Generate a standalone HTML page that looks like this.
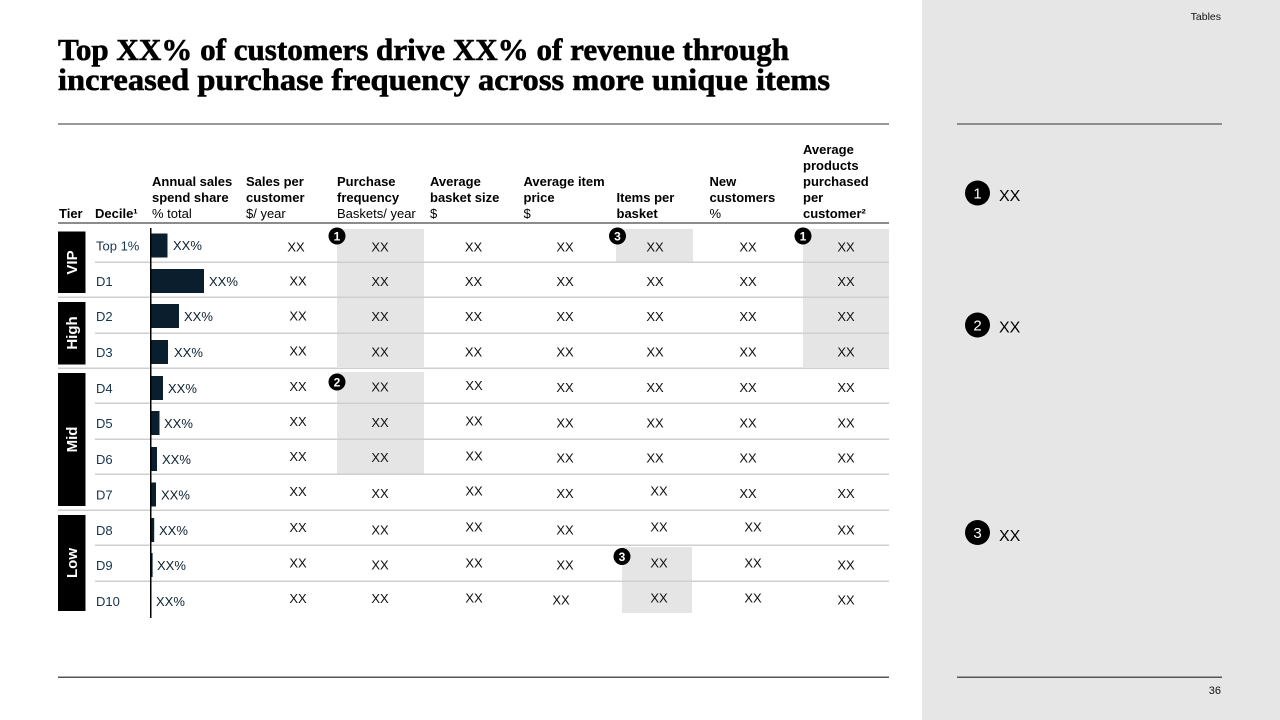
<!DOCTYPE html>
<html>
<head>
<meta charset="utf-8">
<style>
  html,body{margin:0;padding:0;background:#fff;}
  body{width:1280px;height:720px;overflow:hidden;position:relative;}
  svg{position:absolute;left:0;top:0;}
</style>
</head>
<body>
<svg width="1280" height="720" viewBox="0 0 1280 720" xmlns="http://www.w3.org/2000/svg" font-family="'Liberation Sans', Arial, sans-serif">
  <!-- right grey panel -->
  <rect x="922" y="0" width="358" height="720" fill="#e6e6e6"/>
  <text x="1221" y="20" font-size="10.5" text-anchor="end" fill="#111">Tables</text>
  <rect x="957" y="123" width="265" height="2" fill="#8c8c8c"/>
  <rect x="957" y="676.5" width="265" height="1.5" fill="#555"/>
  <text x="1221" y="694" font-size="11" text-anchor="end" fill="#111">36</text>

  <!-- legend -->
  <circle cx="977.5" cy="193" r="12.5" fill="#000"/>
  <text x="977.5" y="198.5" font-size="15" fill="#fff" text-anchor="middle">1</text>
  <text x="999" y="201" font-size="16" fill="#000">XX</text>
  <circle cx="977.5" cy="325" r="12.5" fill="#000"/>
  <text x="977.5" y="330.5" font-size="15" fill="#fff" text-anchor="middle">2</text>
  <text x="999" y="332.5" font-size="16" fill="#000">XX</text>
  <circle cx="977.5" cy="532.5" r="12.5" fill="#000"/>
  <text x="977.5" y="538" font-size="15" fill="#fff" text-anchor="middle">3</text>
  <text x="999" y="541" font-size="16" fill="#000">XX</text>

  <!-- title -->
  <g font-family="'Liberation Serif', Georgia, serif" font-weight="bold" font-size="31" fill="#000" stroke="#000" stroke-width="0.6">
    <text x="58" y="60" textLength="731" lengthAdjust="spacingAndGlyphs">Top XX% of customers drive XX% of revenue through</text>
    <text x="58" y="90" textLength="772" lengthAdjust="spacingAndGlyphs">increased purchase frequency across more unique items</text>
  </g>
  <rect x="58" y="123" width="831" height="2" fill="#999"/>
  <rect x="58" y="676.5" width="831" height="1.5" fill="#555"/>

  <!-- header -->
  <g font-size="13" fill="#000">
    <g font-weight="bold">
      <text x="59" y="218">Tier</text>
      <text x="95" y="218">Decile¹</text>
      <text x="152" y="186">Annual sales</text>
      <text x="152" y="202">spend share</text>
      <text x="246" y="186">Sales per</text>
      <text x="246" y="202">customer</text>
      <text x="337" y="186">Purchase</text>
      <text x="337" y="202">frequency</text>
      <text x="430" y="186">Average</text>
      <text x="430" y="202">basket size</text>
      <text x="523.5" y="186">Average item</text>
      <text x="523.5" y="202">price</text>
      <text x="616.5" y="202">Items per</text>
      <text x="616.5" y="218">basket</text>
      <text x="709.5" y="186">New</text>
      <text x="709.5" y="202">customers</text>
      <text x="803" y="154">Average</text>
      <text x="803" y="170">products</text>
      <text x="803" y="186">purchased</text>
      <text x="803" y="202">per</text>
      <text x="803" y="218">customer²</text>
    </g>
    <text x="152" y="218">% total</text>
    <text x="246" y="218">$/ year</text>
    <text x="337" y="218">Baskets/ year</text>
    <text x="430" y="218">$</text>
    <text x="523.5" y="218">$</text>
    <text x="709.5" y="218">%</text>
  </g>
  <rect x="58" y="222" width="831" height="2" fill="#8c8c8c"/>

  <!-- shaded cells -->
  <g fill="#e5e5e5">
    <rect x="337" y="229" width="87" height="138"/>
    <rect x="337" y="372" width="87" height="102"/>
    <rect x="616" y="229" width="77" height="33"/>
    <rect x="622" y="547" width="70" height="66"/>
    <rect x="803" y="229" width="86" height="138"/>
  </g>

  <!-- row separators -->
  <g fill="#cfcfcf">
    <rect x="95" y="261.5" width="794" height="1.5"/>
    <rect x="58" y="296.5" width="831" height="1.5"/>
    <rect x="95" y="332.5" width="794" height="1.5"/>
    <rect x="58" y="367.5" width="831" height="1.5"/>
    <rect x="95" y="402.5" width="794" height="1.5"/>
    <rect x="95" y="438.5" width="794" height="1.5"/>
    <rect x="95" y="473.5" width="794" height="1.5"/>
    <rect x="58" y="509.5" width="831" height="1.5"/>
    <rect x="95" y="544.5" width="794" height="1.5"/>
    <rect x="95" y="580.5" width="794" height="1.5"/>
  </g>

  <!-- tier boxes -->
  <g fill="#000">
    <rect x="58" y="231.5" width="27.5" height="61.5"/>
    <rect x="58" y="302" width="27.5" height="62.5"/>
    <rect x="58" y="373" width="27.5" height="133"/>
    <rect x="58" y="515" width="27.5" height="96"/>
  </g>
  <g font-size="15" font-weight="bold" fill="#fff" text-anchor="middle">
    <text transform="translate(77,262.5) rotate(-90)">VIP</text>
    <text transform="translate(77,333) rotate(-90)">High</text>
    <text transform="translate(77,439.5) rotate(-90)">Mid</text>
    <text transform="translate(77,563) rotate(-90)">Low</text>
  </g>

  <!-- decile labels -->
  <g font-size="13" fill="#143450">
    <text x="96" y="250.5">Top 1%</text>
    <text x="96" y="286">D1</text>
    <text x="96" y="321">D2</text>
    <text x="96" y="357">D3</text>
    <text x="96" y="393">D4</text>
    <text x="96" y="428">D5</text>
    <text x="96" y="464">D6</text>
    <text x="96" y="499.5">D7</text>
    <text x="96" y="535">D8</text>
    <text x="96" y="570">D9</text>
    <text x="96" y="606">D10</text>
  </g>

  <!-- bars -->
  <g fill="#0a1e2d">
    <rect x="151" y="233.5" width="16.5" height="24"/>
    <rect x="151" y="269" width="53" height="24"/>
    <rect x="151" y="304" width="28" height="24"/>
    <rect x="151" y="340" width="17" height="24"/>
    <rect x="151" y="376" width="12" height="24"/>
    <rect x="151" y="411" width="8.5" height="24"/>
    <rect x="151" y="447" width="6" height="24"/>
    <rect x="151" y="482.5" width="5" height="24"/>
    <rect x="151" y="518" width="3.2" height="24"/>
    <rect x="151" y="553" width="1.6" height="24"/>
  </g>
  <rect x="150" y="228" width="1.5" height="390" fill="#000"/>

  <!-- bar labels -->
  <g font-size="13" fill="#0a2030">
    <text x="173" y="250">XX%</text>
    <text x="209" y="286">XX%</text>
    <text x="184" y="321">XX%</text>
    <text x="174" y="357">XX%</text>
    <text x="168" y="393">XX%</text>
    <text x="164" y="428">XX%</text>
    <text x="162" y="464">XX%</text>
    <text x="161" y="499.5">XX%</text>
    <text x="159" y="535">XX%</text>
    <text x="157" y="570">XX%</text>
    <text x="156" y="606">XX%</text>
  </g>

  <!-- values -->
  <g font-size="13" fill="#111" text-anchor="middle">
    <!-- sales per customer -->
    <text x="296" y="251.5">XX</text>
    <text x="298" y="285.5">XX</text>
    <text x="298" y="320.5">XX</text>
    <text x="298" y="355.5">XX</text>
    <text x="298" y="391">XX</text>
    <text x="298" y="426">XX</text>
    <text x="298" y="461">XX</text>
    <text x="298" y="496">XX</text>
    <text x="298" y="532">XX</text>
    <text x="298" y="567.5">XX</text>
    <text x="298" y="603">XX</text>
    <!-- purchase frequency -->
    <text x="380" y="251.5">XX</text>
    <text x="380" y="286">XX</text>
    <text x="380" y="321">XX</text>
    <text x="380" y="356.5">XX</text>
    <text x="380" y="391.5">XX</text>
    <text x="380" y="427">XX</text>
    <text x="380" y="462">XX</text>
    <text x="380" y="498">XX</text>
    <text x="380" y="534.5">XX</text>
    <text x="380" y="569.5">XX</text>
    <text x="380" y="603">XX</text>
    <!-- basket size -->
    <text x="473.5" y="251.5">XX</text>
    <text x="473.5" y="286">XX</text>
    <text x="473.5" y="321">XX</text>
    <text x="473.5" y="356.5">XX</text>
    <text x="474" y="390">XX</text>
    <text x="474" y="425.5">XX</text>
    <text x="474" y="460.5">XX</text>
    <text x="474" y="495.5">XX</text>
    <text x="474" y="531.5">XX</text>
    <text x="474" y="567.5">XX</text>
    <text x="474" y="602.5">XX</text>
    <!-- item price -->
    <text x="565" y="251.5">XX</text>
    <text x="565" y="286">XX</text>
    <text x="565" y="321">XX</text>
    <text x="565" y="356.5">XX</text>
    <text x="565" y="392">XX</text>
    <text x="565" y="427.5">XX</text>
    <text x="565" y="462.5">XX</text>
    <text x="565" y="498">XX</text>
    <text x="565" y="534.5">XX</text>
    <text x="565" y="569.5">XX</text>
    <text x="561" y="604.5">XX</text>
    <!-- items per basket -->
    <text x="655" y="251.5">XX</text>
    <text x="655" y="286">XX</text>
    <text x="655" y="321">XX</text>
    <text x="655" y="356.5">XX</text>
    <text x="655" y="392">XX</text>
    <text x="655" y="427.5">XX</text>
    <text x="655" y="462.5">XX</text>
    <text x="659" y="495.5">XX</text>
    <text x="659" y="531.5">XX</text>
    <text x="659" y="567.5">XX</text>
    <text x="659" y="602.5">XX</text>
    <!-- new customers -->
    <text x="748" y="251.5">XX</text>
    <text x="748" y="286">XX</text>
    <text x="748" y="321">XX</text>
    <text x="748" y="356.5">XX</text>
    <text x="748" y="392">XX</text>
    <text x="748" y="427.5">XX</text>
    <text x="748" y="462.5">XX</text>
    <text x="748" y="498">XX</text>
    <text x="753" y="531.5">XX</text>
    <text x="753" y="567.5">XX</text>
    <text x="753" y="602.5">XX</text>
    <!-- avg products -->
    <text x="846" y="251.5">XX</text>
    <text x="846" y="286">XX</text>
    <text x="846" y="321">XX</text>
    <text x="846" y="356.5">XX</text>
    <text x="846" y="392">XX</text>
    <text x="846" y="427.5">XX</text>
    <text x="846" y="462.5">XX</text>
    <text x="846" y="498">XX</text>
    <text x="846" y="534.5">XX</text>
    <text x="846" y="569.5">XX</text>
    <text x="846" y="604.5">XX</text>
  </g>

  <!-- table badges -->
  <g>
    <circle cx="337" cy="236" r="8.5" fill="#000"/>
    <text x="337" y="240.5" font-size="12" font-weight="bold" fill="#fff" text-anchor="middle">1</text>
    <circle cx="617.5" cy="236" r="8.5" fill="#000"/>
    <text x="617.5" y="240.5" font-size="12" font-weight="bold" fill="#fff" text-anchor="middle">3</text>
    <circle cx="803" cy="236" r="8.5" fill="#000"/>
    <text x="803" y="240.5" font-size="12" font-weight="bold" fill="#fff" text-anchor="middle">1</text>
    <circle cx="337" cy="382" r="8.5" fill="#000"/>
    <text x="337" y="386.5" font-size="12" font-weight="bold" fill="#fff" text-anchor="middle">2</text>
    <circle cx="622" cy="556.5" r="8.5" fill="#000"/>
    <text x="622" y="561" font-size="12" font-weight="bold" fill="#fff" text-anchor="middle">3</text>
  </g>
</svg>
</body>
</html>
